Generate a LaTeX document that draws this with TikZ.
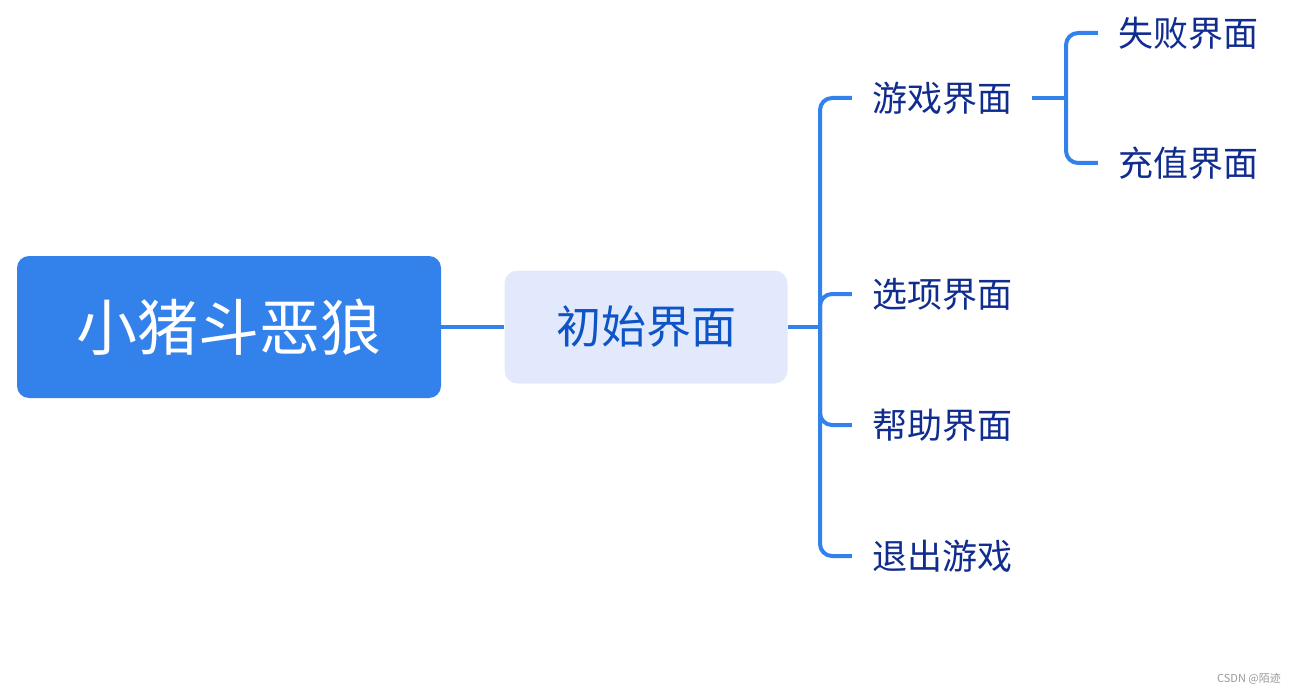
\documentclass[tikz,border=0pt]{standalone}
\usepackage{fontspec}
\setmainfont{Noto Sans CJK SC}
\definecolor{mapblue}{HTML}{3382EC}
\definecolor{midfill}{HTML}{E3E9FD}
\definecolor{midtext}{HTML}{0D55C6}
\definecolor{leaftext}{HTML}{102C8F}
\begin{document}
\begin{tikzpicture}[x=1pt,y=-1pt,
  rootbox/.style={fill=mapblue,rounded corners=12pt,minimum width=424pt,minimum height=142pt,
    text=white,font=\fontsize{61}{63}\selectfont},
  midbox/.style={fill=midfill,rounded corners=13pt,minimum width=283pt,minimum height=113pt,
    text=midtext,font=\fontsize{45}{47}\selectfont},
  leaf/.style={inner xsep=20pt,inner ysep=0pt,text=leaftext,font=\fontsize{35}{37}\selectfont},
  branch/.style={draw=mapblue,line width=4pt,rounded corners=12pt}]
\useasboundingbox (0,0) rectangle (1298,695);
\node[rootbox] (root) at (229,327) {小猪斗恶狼};
\node[midbox] (start) at (646,327) {初始界面};
\coordinate (fork) at (820,327);
\node[leaf] (game) at (942,98) {游戏界面};
\node[leaf] (option) at (942,294) {选项界面};
\node[leaf] (help) at (942,425) {帮助界面};
\node[leaf] (quit) at (942,556) {退出游戏};
\coordinate (subfork) at (1066,98);
\node[leaf] (lose) at (1188,33) {失败界面};
\node[leaf] (pay) at (1188,163) {充值界面};
\draw[branch] (root) -- (start);
\draw[branch] (start.east) -- (fork);
\foreach \n in {game,option,help,quit}
  \draw[branch] (fork) |- (\n.west);
\draw[branch] (game.east) -- (subfork);
\foreach \n in {lose,pay}
  \draw[branch] (subfork) |- (\n.west);
\node[text=black!40,font=\fontsize{11}{12}\selectfont] (mark) at (1249,679) {CSDN @陌迹};
\end{tikzpicture}
\end{document}
